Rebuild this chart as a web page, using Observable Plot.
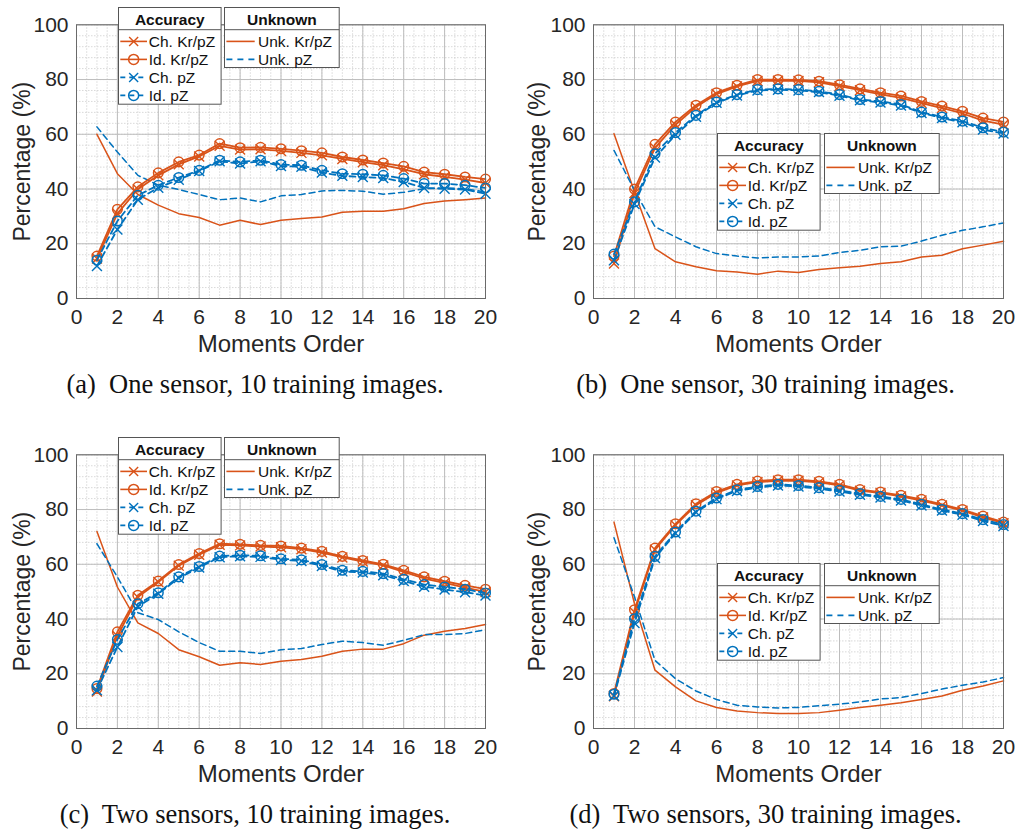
<!DOCTYPE html>
<html>
<head>
<meta charset="utf-8">
<script src="https://cdn.jsdelivr.net/npm/d3@7"></script>
<script src="https://cdn.jsdelivr.net/npm/@observablehq/plot@0.6"></script>
<style>
  body { margin: 0; background: #fff; }
  #root { position: relative; width: 1021px; height: 832px; overflow: hidden; background: #fff; }
  .panel { position: absolute; }
  .panel svg.plot { display: block; }
  .caption { position: absolute; left: 0; width: 100%; text-align: center; font-family: "Liberation Serif", "Times New Roman", serif; font-size: 26.5px; line-height: 30px; color: #111; white-space: pre; }
  .legend { position: absolute; overflow: visible; }
</style>
</head>
<body>
<div id="root"></div>
<script>
// ---------- data ----------
const orders = [1,2,3,4,5,6,7,8,9,10,11,12,13,14,15,16,17,18,19,20];
const xTicks = [0,2,4,6,8,10,12,14,16,18,20];
const yTicks = [0,20,40,60,80,100];

const seriesNames = ["Ch. Kr/pZ","Id. Kr/pZ","Ch. pZ","Id. pZ","Unk. Kr/pZ","Unk. pZ"];
const captions = [
  "(a)  One sensor, 10 training images.",
  "(b)  One sensor, 30 training images.",
  "(c)  Two sensors, 10 training images.",
  "(d)  Two sensors, 30 training images."
];

// (a) One sensor, 10 training images
const aChKr  = [14.6,31.0,39.9,45.0,49.0,51.9,55.8,54.4,54.5,53.9,53.2,52.3,51.0,49.8,48.7,47.2,45.4,44.4,43.4,42.2];
const aIdKr  = [15.5,32.6,40.8,45.9,49.9,52.4,56.6,55.1,55.2,54.7,54.0,53.2,51.7,50.6,49.5,48.3,46.2,45.4,44.4,43.6];
const aChPz  = [11.9,25.2,36.1,40.5,43.4,46.6,50.1,49.3,50.1,48.4,48.1,46.0,44.8,44.4,44.0,42.6,40.4,40.1,39.8,38.3];
const aIdPz  = [14.0,28.3,37.7,41.4,44.2,46.8,50.5,49.9,50.5,48.9,48.7,46.8,45.6,45.4,45.0,43.8,42.0,42.0,41.4,40.4];
const aUnkKr = [60.0,45.6,38.0,34.1,31.0,29.6,26.8,28.6,27.0,28.6,29.2,29.8,31.5,31.9,31.9,32.8,34.7,35.6,36.1,36.7];
const aUnkPz = [62.7,53.5,45.0,41.4,39.8,38.0,36.1,36.7,35.3,37.5,38.0,39.3,39.5,39.2,38.1,38.8,40.1,40.4,40.1,38.9];

// (b) One sensor, 30 training images
const bChKr  = [12.8,38.5,55.0,63.5,70.0,74.7,77.5,79.5,79.6,79.5,79.0,77.6,76.1,74.6,73.3,71.4,69.6,67.6,65.0,63.5];
const bIdKr  = [15.5,40.0,56.3,64.5,70.6,75.2,77.9,80.0,80.0,79.9,79.4,78.1,76.6,75.2,74.0,72.0,70.3,68.4,65.9,64.5];
const bChPz  = [14.0,34.5,51.5,59.8,66.4,71.5,74.2,76.0,76.3,76.0,75.4,74.1,72.4,71.6,70.5,67.8,65.9,64.4,61.7,60.3];
const bIdPz  = [16.2,35.3,52.9,60.6,66.9,71.8,74.5,76.3,76.6,76.3,75.7,74.5,72.7,72.0,70.9,68.1,66.3,64.8,62.4,60.8];
const bUnkKr = [60.2,39.0,18.2,13.4,11.6,10.1,9.7,8.9,10.0,9.5,10.6,11.2,11.8,12.8,13.4,15.2,15.8,18.2,19.5,20.9];
const bUnkPz = [54.1,39.5,26.2,22.5,18.9,16.4,15.5,14.8,15.2,15.2,15.5,16.8,17.6,18.9,19.1,21.0,23.1,24.9,26.2,27.6];

// (c) Two sensors, 10 training images
const cChKr  = [13.5,33.8,48.0,53.5,59.5,63.5,67.1,66.9,66.5,66.2,65.5,64.3,62.5,61.0,59.6,57.2,54.8,53.2,51.5,49.9];
const cIdKr  = [14.6,35.3,48.7,53.9,59.9,63.9,67.5,67.3,66.9,66.7,65.9,64.7,62.9,61.4,60.0,57.8,55.4,53.8,52.3,50.9];
const cChPz  = [14.0,29.8,44.6,49.2,55.0,58.8,62.6,62.9,62.7,61.6,61.2,59.4,57.4,57.0,56.0,53.9,51.8,50.8,49.8,48.6];
const cIdPz  = [15.5,32.5,45.6,49.6,55.4,59.2,63.0,63.3,63.1,62.0,61.6,59.9,57.8,57.4,56.6,54.5,52.6,51.7,50.9,49.5];
const cUnkKr = [72.0,51.7,38.6,34.7,28.8,26.2,23.1,24.0,23.4,24.6,25.2,26.4,28.2,29.0,29.0,31.0,34.1,35.5,36.5,38.0];
const cUnkPz = [67.5,55.4,42.3,39.8,35.3,31.4,28.2,28.2,27.4,28.8,29.2,30.7,31.9,31.4,30.4,32.2,34.3,34.3,34.7,36.1];

// (d) Two sensors, 30 training images
const dChKr  = [11.8,42.5,65.3,74.3,81.6,86.1,88.8,90.0,90.5,90.5,89.9,88.8,86.9,86.0,84.8,83.3,81.5,79.6,77.1,75.0];
const dIdKr  = [12.8,43.4,65.9,74.8,82.1,86.6,89.2,90.4,90.9,90.9,90.3,89.2,87.3,86.4,85.2,83.7,81.9,80.0,77.6,75.4];
const dChPz  = [12.0,38.5,62.3,71.3,79.0,83.8,86.8,88.0,88.8,88.4,87.6,86.6,85.4,84.4,83.3,81.5,79.6,78.1,75.8,74.0];
const dIdPz  = [12.5,40.1,62.9,71.8,79.4,84.2,87.2,88.4,89.2,88.8,88.0,87.0,85.8,84.8,83.7,81.9,80.0,78.5,76.3,74.5];
const dUnkKr = [75.4,45.6,21.3,15.2,10.1,7.7,6.4,5.8,5.5,5.5,5.8,6.7,7.7,8.5,9.4,10.6,11.9,14.0,15.5,17.4];
const dUnkPz = [69.7,48.1,24.9,18.2,13.7,10.6,8.5,7.9,7.5,7.7,8.3,8.9,9.7,10.8,11.3,12.8,14.4,15.8,17.0,18.6];

// ---------- styles ----------
const FONT = "'Liberation Sans', Arial, sans-serif";
const ORANGE = "#D95319";
const BLUE = "#0072BD";
const DASH = "6,4";
const seriesStyle = {
  "Ch. Kr/pZ":  {stroke: ORANGE, dash: null, symbol: "times"},
  "Id. Kr/pZ":  {stroke: ORANGE, dash: null, symbol: "circle"},
  "Ch. pZ":     {stroke: BLUE, dash: DASH, symbol: "times"},
  "Id. pZ":     {stroke: BLUE, dash: DASH, symbol: "circle"},
  "Unk. Kr/pZ": {stroke: ORANGE, dash: null, symbol: null},
  "Unk. pZ":    {stroke: BLUE, dash: DASH, symbol: null}
};

const panels = [
  {left: 0,   top: 0,   width: 510, ml: 76, mr: 25, yl: 54, vals: [aChKr,aIdKr,aChPz,aIdPz,aUnkKr,aUnkPz], leg: {ax: 117.7, ay: 7.3, ux: 224.3}},
  {left: 510, top: 0,   width: 511, ml: 83, mr: 18, yl: 56, vals: [bChKr,bIdKr,bChPz,bIdPz,bUnkKr,bUnkPz], leg: {ax: 207.3, ay: 132.7, ux: 314.3}},
  {left: 0,   top: 430, width: 510, ml: 76, mr: 25, yl: 54, vals: [cChKr,cIdKr,cChPz,cIdPz,cUnkKr,cUnkPz], leg: {ax: 117.7, ay: 7.3, ux: 224.3}},
  {left: 510, top: 430, width: 511, ml: 83, mr: 18, yl: 56, vals: [dChKr,dIdKr,dChPz,dIdPz,dUnkKr,dUnkPz], leg: {ax: 207.3, ay: 132.7, ux: 314.3}}
];

const root = document.getElementById("root");

function rowsFor(values) {
  return orders.map((o, i) => ({order: o, value: values[i]}));
}

function timesSymbolPath(cx, cy, s) {
  return `M${cx-s},${cy-s}L${cx+s},${cy+s}M${cx-s},${cy+s}L${cx+s},${cy-s}`;
}

panels.forEach((p, pi) => {
  const div = document.createElement("div");
  div.className = "panel";
  div.style.left = p.left + "px";
  div.style.top = p.top + "px";
  div.style.width = p.width + "px";
  div.style.height = "402px";
  root.appendChild(div);

  const marks = [
    Plot.gridX(d3.range(0, 20.01, 0.5), {stroke: "#cfcfcf", strokeOpacity: 1, strokeDasharray: "1.5,1.5", strokeWidth: 0.8}),
    Plot.gridY(d3.range(0, 100.01, 4), {stroke: "#cfcfcf", strokeOpacity: 1, strokeDasharray: "1.5,1.5", strokeWidth: 0.8}),
    Plot.gridX(xTicks, {stroke: "#bdbdbd", strokeOpacity: 1, strokeWidth: 1}),
    Plot.gridY(yTicks, {stroke: "#bdbdbd", strokeOpacity: 1, strokeWidth: 1}),
  ];

  const order = [4, 5, 0, 1, 2, 3];
  order.forEach(si => {
    const name = seriesNames[si];
    const st = seriesStyle[name];
    const rows = rowsFor(p.vals[si]);
    const isUnk = st.symbol === null;
    marks.push(Plot.line(rows, {
      x: "order", y: "value",
      stroke: st.stroke,
      strokeWidth: isUnk ? 1.5 : 1.8,
      strokeDasharray: st.dash || undefined
    }));
    if (st.symbol === "circle") {
      marks.push(Plot.dot(rows, {x: "order", y: "value", r: 4.8, stroke: st.stroke, strokeWidth: 1.5, fill: "none", symbol: "circle"}));
    } else if (st.symbol === "times") {
      marks.push(Plot.dot(rows, {x: "order", y: "value", r: 4.6, stroke: st.stroke, strokeWidth: 1.4, fill: "none", symbol: "times"}));
    }
  });

  marks.push(Plot.frame({stroke: "#6a6a6a", strokeWidth: 1}));
  marks.push(Plot.axisX(xTicks, {tickSize: 0, tickPadding: 11, fontSize: 21, label: null, fill: "#262626"}));
  marks.push(Plot.axisY(yTicks, {tickSize: 0, tickPadding: 8, fontSize: 21, label: null, fill: "#262626"}));
  marks.push(Plot.text(["Moments Order"], {frameAnchor: "bottom", dy: 46.3, lineAnchor: "middle", textAnchor: "middle", fontSize: 24, fill: "#262626"}));
  marks.push(Plot.text(["Percentage (%)"], {frameAnchor: "left", dx: -p.yl, rotate: -90, lineAnchor: "middle", textAnchor: "middle", fontSize: 23, fill: "#262626"}));

  const chart = Plot.plot({
    width: p.width,
    height: 362,
    marginLeft: p.ml,
    marginRight: p.mr,
    marginTop: 24.3,
    marginBottom: 64,
    style: {fontFamily: FONT, background: "transparent", overflow: "visible"},
    x: {domain: [0, 20], type: "linear"},
    y: {domain: [0, 100], type: "linear"},
    marks
  });
  chart.classList.add("plot");
  div.appendChild(chart);

  const cap = document.createElement("div");
  cap.className = "caption";
  cap.style.top = "368.5px";
  cap.textContent = captions[pi];
  div.appendChild(cap);

  drawLegend(div, p.leg.ax, p.leg.ay, 103.6, 97.7, "Accuracy", seriesNames.slice(0, 4), 2.3, 29, 30.8);
  drawLegend(div, p.leg.ux, p.leg.ay, 115.7, 61, "Unknown", seriesNames.slice(4), 2.4, 30.7, 34);
});

function drawLegend(parent, x, y, w, h, title, names, lx0, lx1, tx) {
  const svg = d3.create("svg")
    .attr("class", "legend")
    .attr("width", w + 2).attr("height", h + 2)
    .style("left", (x - 1) + "px").style("top", (y - 1) + "px");
  const g = svg.append("g").attr("transform", "translate(1,1)");
  g.append("rect").attr("x", 0.5).attr("y", 0.5).attr("width", w - 1).attr("height", h - 1)
    .attr("fill", "#fff").attr("stroke", "#555").attr("stroke-width", 1);
  g.append("line").attr("x1", 0.5).attr("x2", w - 0.5).attr("y1", 22.7).attr("y2", 22.7)
    .attr("stroke", "#555").attr("stroke-width", 1);
  g.append("text").attr("x", w / 2).attr("y", 18).attr("text-anchor", "middle")
    .attr("font-family", FONT).attr("font-weight", "bold").attr("font-size", 15.5)
    .attr("fill", "#111").text(title);
  names.forEach((name, i) => {
    const st = seriesStyle[name];
    const cy = 34.4 + i * 18;
    const cx = (lx0 + lx1) / 2;
    g.append("line").attr("x1", lx0).attr("x2", lx1).attr("y1", cy).attr("y2", cy)
      .attr("stroke", st.stroke).attr("stroke-width", 1.6)
      .attr("stroke-dasharray", st.dash ? (st.symbol ? "5,4" : "6,5") : null);
    if (st.symbol === "circle") {
      g.append("circle").attr("cx", cx).attr("cy", cy).attr("r", 5).attr("fill", "none")
        .attr("stroke", st.stroke).attr("stroke-width", 1.5);
    } else if (st.symbol === "times") {
      g.append("path").attr("d", timesSymbolPath(cx, cy, 4.5)).attr("fill", "none")
        .attr("stroke", st.stroke).attr("stroke-width", 1.4);
    }
    g.append("text").attr("x", tx).attr("y", cy + 5.5)
      .attr("font-family", FONT).attr("font-size", 15.5)
      .attr("fill", "#111").text(name);
  });
  parent.appendChild(svg.node());
}
</script>
</body>
</html>
